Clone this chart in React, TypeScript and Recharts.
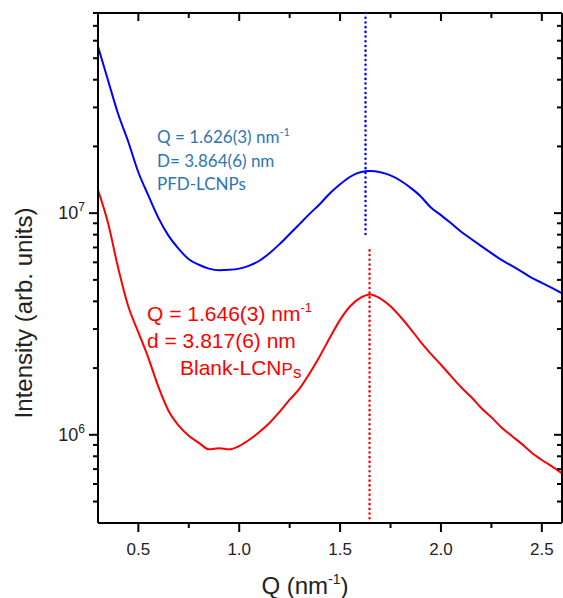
import React from "react";
import { LineChart, Line, XAxis, YAxis, ReferenceLine } from "recharts";

// scattering vector Q (nm^-1)
const qValues = [
  0.3, 0.35, 0.4, 0.45, 0.5, 0.55, 0.6, 0.65, 0.7, 0.75, 0.8, 0.85, 0.9, 0.95,
  1.0, 1.05, 1.1, 1.15, 1.2, 1.25, 1.3, 1.35, 1.4, 1.45, 1.5, 1.55, 1.6, 1.65,
  1.7, 1.75, 1.8, 1.85, 1.9, 1.95, 2.0, 2.05, 2.1, 2.15, 2.2, 2.25, 2.3, 2.35,
  2.4, 2.45, 2.5, 2.55, 2.6,
];

// intensities in units of 1e6
const pfdIntensity = [
  56.5, 39.7, 28.0, 21.0, 15.3, 12.0, 9.5, 7.9, 6.9, 6.2, 5.85, 5.62, 5.53,
  5.55, 5.62, 5.8, 6.1, 6.6, 7.25, 8.05, 8.95, 9.95, 11.0, 12.3, 13.5, 14.6,
  15.3, 15.5, 15.3, 14.8, 14.0, 13.0, 11.9, 10.6, 9.8, 9.0, 8.25, 7.65, 7.1,
  6.6, 6.15, 5.8, 5.45, 5.1, 4.85, 4.6, 4.35,
];

const blankIntensity = [
  12.7, 9.0, 5.66, 3.8, 2.9, 2.22, 1.64, 1.28, 1.1, 0.99, 0.92, 0.86, 0.87,
  0.86, 0.89, 0.95, 1.03, 1.13, 1.27, 1.44, 1.62, 1.9, 2.27, 2.75, 3.3, 3.8,
  4.15, 4.3, 4.12, 3.8, 3.4, 3.0, 2.62, 2.32, 2.07, 1.84, 1.64, 1.48, 1.32,
  1.2, 1.08, 0.99, 0.91, 0.83, 0.77, 0.72, 0.67,
];

const xMajorTicks = [0.5, 1.0, 1.5, 2.0, 2.5];
const xTicks = [0.5, 0.75, 1.0, 1.25, 1.5, 1.75, 2.0, 2.25, 2.5];
const yTicks = [
  5e5, 6e5, 7e5, 8e5, 9e5, 1e6, 2e6, 3e6, 4e6, 5e6, 6e6, 7e6, 8e6, 9e6, 1e7,
  2e7, 3e7, 4e7, 5e7, 6e7, 7e7, 8e7,
];

const peakPfd = 1.626;
const peakBlank = 1.646;

const data = qValues.map((q, i) => ({
  q,
  pfd: pfdIntensity[i] * 1e6,
  blank: blankIntensity[i] * 1e6,
}));

const FONT = "'Liberation Sans', Arial, sans-serif";
const xDomain: [number, number] = [0.3, 2.6];
const yDomain: [number, number] = [4e5, 8e7];
const axisLine = { stroke: "#000", strokeWidth: 2 };

const isMajorY = (v: number) => v === 1e6 || v === 1e7;

const BottomTick = (props: any) => {
  const { x, y, payload } = props;
  const major = xMajorTicks.includes(payload.value);
  return (
    <g>
      <line x1={x} x2={x} y1={y} y2={y + (major ? 9 : 5)} stroke="#000" strokeWidth={2} />
      {major && (
        <text x={x} y={y + 32} textAnchor="middle" fontSize={17} fill="#222" fontFamily={FONT}>
          {payload.value.toFixed(1)}
        </text>
      )}
    </g>
  );
};

const LeftTick = (props: any) => {
  const { x, y, payload } = props;
  const major = isMajorY(payload.value);
  return (
    <g>
      <line x1={x} x2={x - (major ? 9 : 5)} y1={y} y2={y} stroke="#000" strokeWidth={2} />
      {major && (
        <text x={x - 13} y={y + 6} textAnchor="end" fontSize={18} fill="#222" fontFamily={FONT}>
          10
          <tspan dy={-8} fontSize={12}>
            {payload.value === 1e6 ? "6" : "7"}
          </tspan>
        </text>
      )}
    </g>
  );
};

const RightTick = (props: any) => {
  const { x, y, payload } = props;
  const major = isMajorY(payload.value);
  return (
    <g>
      <line x1={x} x2={x - (major ? 8 : 5)} y1={y} y2={y} stroke="#000" strokeWidth={2} />
    </g>
  );
};

const XTitle = (props: any) => {
  const { viewBox } = props;
  return (
    <text x={viewBox.x + viewBox.width / 2 - 25} y={viewBox.y + 71} textAnchor="middle" fontSize={24} fill="#222" fontFamily={FONT}>
      Q (nm
      <tspan dy={-10} fontSize={14}>-1</tspan>
      <tspan dy={10}>)</tspan>
    </text>
  );
};

const YTitle = (props: any) => {
  const { viewBox } = props;
  const cy = viewBox.y + viewBox.height / 2 + 45;
  return (
    <text x={32} y={cy} transform={`rotate(-90 32 ${cy})`} textAnchor="middle" fontSize={24} fill="#222" fontFamily={FONT}>
      Intensity (arb. units)
    </text>
  );
};

const dotted = { strokeWidth: 2.5, strokeDasharray: "0.1 4.6", strokeLinecap: "round" as const };

// inward tick length on the top frame, as a fraction of the top value (log axis)
const topTickMajor = 0.92;
const topTickMinor = 0.95;

export default function App() {
  const yTop = yDomain[1];
  return (
    <div style={{ position: "absolute", left: 0, top: 0, background: "#fff" }}>
      <LineChart width={563} height={598} data={data} margin={{ top: 13, right: 0, bottom: 0, left: 0 }}>
        <XAxis
          dataKey="q"
          type="number"
          domain={xDomain}
          allowDataOverflow
          ticks={xTicks}
          interval={0}
          tick={<BottomTick />}
          tickLine={false}
          tickSize={0}
          tickMargin={0}
          height={75}
          axisLine={axisLine}
          label={<XTitle />}
        />
        <YAxis
          type="number"
          scale="log"
          domain={yDomain}
          allowDataOverflow
          ticks={yTicks}
          interval={0}
          tick={<LeftTick />}
          tickLine={false}
          tickSize={0}
          tickMargin={0}
          width={98}
          axisLine={axisLine}
          label={<YTitle />}
        />
        <YAxis
          yAxisId="right"
          orientation="right"
          type="number"
          scale="log"
          domain={yDomain}
          allowDataOverflow
          ticks={yTicks}
          interval={0}
          tick={<RightTick />}
          tickLine={false}
          tickSize={0}
          tickMargin={0}
          width={1}
          axisLine={axisLine}
        />
        {/* invisible series so the right frame axis is drawn */}
        <Line
          yAxisId="right"
          dataKey="pfd"
          stroke="#fff"
          strokeOpacity={0}
          dot={false}
          activeDot={false}
          legendType="none"
          isAnimationActive={false}
        />
        {/* top frame with inward ticks */}
        <ReferenceLine y={yTop} stroke="#000" strokeWidth={2} />
        {xTicks.map((t) => (
          <ReferenceLine
            key={t}
            segment={[
              { x: t, y: yTop },
              { x: t, y: yTop * (xMajorTicks.includes(t) ? topTickMajor : topTickMinor) },
            ]}
            stroke="#000"
            strokeWidth={2}
          />
        ))}
        <Line type="monotone" dataKey="pfd" stroke="#0000ff" strokeWidth={2} dot={false} isAnimationActive={false} />
        <Line type="monotone" dataKey="blank" stroke="#ff0000" strokeWidth={2} dot={false} isAnimationActive={false} />
        <ReferenceLine
          segment={[{ x: peakPfd, y: 8e7 }, { x: peakPfd, y: 7.7e6 }]}
          stroke="#0000ff"
          {...dotted}
        />
        <ReferenceLine
          segment={[{ x: peakBlank, y: 6.8e6 }, { x: peakBlank, y: 4e5 }]}
          stroke="#ff0000"
          {...dotted}
        />
        <g fontFamily="Lato, 'Open Sans', sans-serif" fontSize={17} fill="#2e75b6">
          <text x={157} y={143}>
            Q = 1.626(3) nm<tspan dy={-7} fontSize={11}>-1</tspan>
          </text>
          <text x={157} y={167}>D= 3.864(6) nm</text>
          <text x={157} y={190}>PFD-LCNPs</text>
        </g>
        <g fontFamily={FONT} fontSize={21} fill="#ff0000">
          <text x={147} y={321}>
            Q = 1.646(3) nm<tspan dy={-9} fontSize={13}>-1</tspan>
          </text>
          <text x={147} y={348}>d = 3.817(6) nm</text>
          <text x={180} y={375}>
            Blank-LCN<tspan fontSize={17}>P</tspan>
            <tspan fontSize={17} dy={3}>s</tspan>
          </text>
        </g>
      </LineChart>
    </div>
  );
}
